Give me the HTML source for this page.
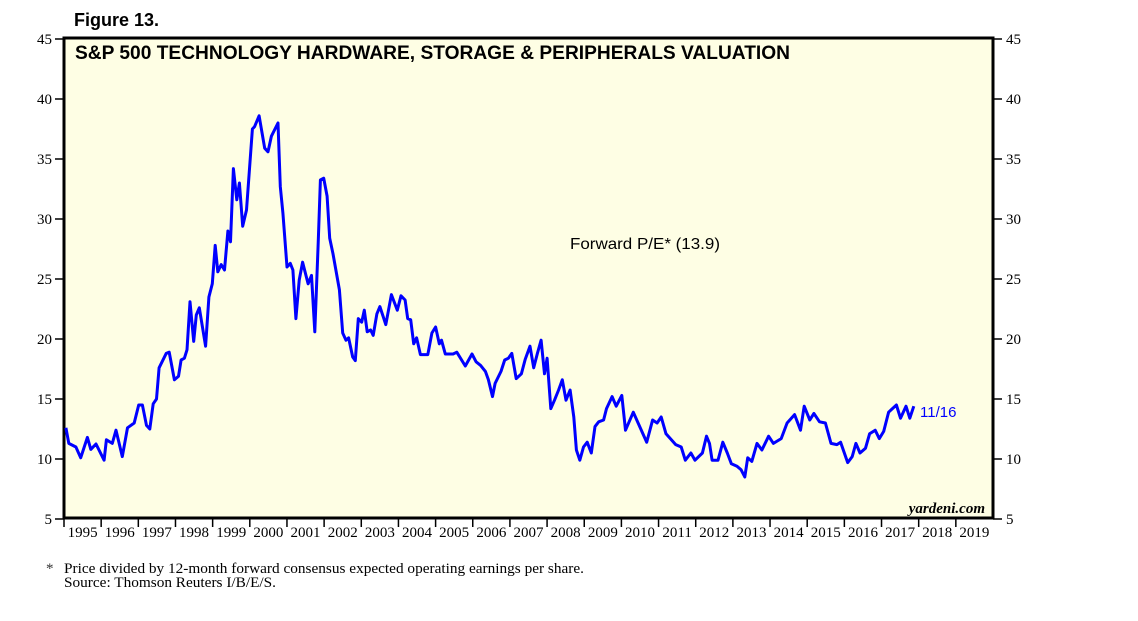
<!DOCTYPE html>
<html><head><meta charset="utf-8"><style>
body{margin:0;background:#fff;width:1138px;height:621px;overflow:hidden}
svg{display:block}
</style></head><body>
<svg width="1138" height="621" xmlns="http://www.w3.org/2000/svg">
<text x="74" y="26" font-family="Liberation Sans, sans-serif" font-weight="bold" font-size="18">Figure 13.</text>
<rect x="64" y="38" width="929" height="480" fill="#FEFEE4" stroke="#000" stroke-width="3"/>
<text x="75" y="59" font-family="Liberation Sans, sans-serif" font-weight="bold" font-size="19" textLength="715" lengthAdjust="spacingAndGlyphs">S&amp;P 500 TECHNOLOGY HARDWARE, STORAGE &amp; PERIPHERALS VALUATION</text>
<g id="yaxes"></g>
<g id="xaxis"></g>
<path id="line" fill="none" stroke="#0000FF" stroke-width="3" stroke-linejoin="round"/>
<text x="570" y="249" font-family="Liberation Sans, sans-serif" font-size="16" textLength="150" lengthAdjust="spacingAndGlyphs">Forward P/E* (13.9)</text>
<text x="920" y="417" font-family="Liberation Sans, sans-serif" font-size="15" fill="#0000FF">11/16</text>
<text x="985" y="513" text-anchor="end" font-family="Liberation Serif, serif" font-style="italic" font-weight="bold" font-size="15">yardeni.com</text>
<text x="46" y="573" font-family="Liberation Serif, serif" font-size="15" fill="#333">*</text>
<text x="64" y="573" font-family="Liberation Serif, serif" font-size="15" textLength="520" lengthAdjust="spacingAndGlyphs">Price divided by 12-month forward consensus expected operating earnings per share.</text>
<text x="64" y="587" font-family="Liberation Serif, serif" font-size="15" textLength="212" lengthAdjust="spacingAndGlyphs">Source: Thomson Reuters I/B/E/S.</text>
</svg>
<script>
const yTicks=[5,10,15,20,25,30,35,40,45];
const years=[1995,1996,1997,1998,1999,2000,2001,2002,2003,2004,2005,2006,2007,2008,2009,2010,2011,2012,2013,2014,2015,2016,2017,2018,2019];
const dates=[0.05,0.13,0.32,0.45,0.63,0.72,0.86,1.08,1.14,1.30,1.40,1.57,1.71,1.89,2.01,2.11,2.22,2.31,2.40,2.49,2.56,2.75,2.83,2.97,3.08,3.15,3.24,3.31,3.39,3.49,3.56,3.64,3.81,3.90,3.99,4.07,4.14,4.23,4.32,4.41,4.48,4.56,4.65,4.72,4.81,4.91,5.07,5.13,5.25,5.40,5.49,5.58,5.76,5.82,5.89,6.00,6.09,6.16,6.24,6.33,6.42,6.57,6.66,6.75,6.84,6.90,6.99,7.08,7.15,7.24,7.41,7.50,7.59,7.66,7.77,7.84,7.92,8.01,8.08,8.16,8.25,8.32,8.42,8.50,8.66,8.81,8.97,9.07,9.18,9.25,9.33,9.41,9.49,9.59,9.79,9.90,10.00,10.10,10.16,10.26,10.47,10.57,10.80,10.98,11.09,11.21,11.34,11.42,11.53,11.60,11.76,11.86,11.96,12.05,12.17,12.31,12.41,12.54,12.64,12.74,12.84,12.93,13.00,13.10,13.20,13.31,13.41,13.51,13.62,13.72,13.79,13.88,13.98,14.08,14.19,14.29,14.39,14.52,14.60,14.75,14.86,15.01,15.11,15.32,15.45,15.68,15.84,15.96,16.07,16.20,16.46,16.61,16.72,16.87,16.98,17.18,17.29,17.37,17.44,17.60,17.73,17.85,17.96,18.11,18.22,18.32,18.40,18.51,18.65,18.78,18.96,19.09,19.30,19.46,19.66,19.82,19.92,20.07,20.18,20.33,20.49,20.64,20.80,20.90,21.09,21.21,21.31,21.42,21.57,21.68,21.83,21.94,22.06,22.19,22.40,22.51,22.66,22.76,22.87];
const values=[12.6,11.3,11.0,10.1,11.8,10.8,11.25,9.9,11.6,11.3,12.4,10.2,12.6,13.0,14.5,14.5,12.8,12.5,14.6,15.0,17.6,18.8,18.9,16.6,16.9,18.25,18.4,19.1,23.1,19.8,22.0,22.6,19.4,23.5,24.6,27.8,25.6,26.2,25.75,29.0,28.1,34.2,31.6,33.0,29.4,30.75,37.5,37.7,38.6,35.9,35.6,36.9,38.0,32.7,30.5,26.0,26.3,25.75,21.7,24.9,26.4,24.6,25.3,20.6,28.0,33.25,33.4,31.9,28.4,27.1,24.1,20.5,19.9,20.1,18.5,18.2,21.7,21.4,22.4,20.6,20.75,20.3,22.1,22.7,21.2,23.7,22.4,23.6,23.25,21.7,21.6,19.6,20.1,18.7,18.7,20.5,21.0,19.6,19.9,18.75,18.75,18.9,17.75,18.75,18.1,17.8,17.3,16.6,15.2,16.3,17.3,18.25,18.4,18.8,16.7,17.1,18.3,19.4,17.6,18.8,19.9,17.1,18.4,14.2,14.9,15.75,16.6,14.9,15.75,13.5,10.75,9.9,11.0,11.4,10.5,12.7,13.1,13.25,14.2,15.2,14.4,15.3,12.4,13.9,13.0,11.4,13.25,13.0,13.5,12.1,11.2,11.0,9.9,10.5,9.9,10.5,11.9,11.3,9.9,9.9,11.4,10.5,9.6,9.4,9.1,8.5,10.1,9.8,11.3,10.75,11.9,11.3,11.7,13.0,13.7,12.4,14.4,13.25,13.8,13.1,13.0,11.3,11.2,11.4,9.7,10.2,11.3,10.5,10.9,12.1,12.4,11.7,12.3,13.9,14.5,13.4,14.4,13.4,14.4];
const X0=64,YW=37.16;
function xs(t){return X0+t*YW;}
function ys(v){return 519-(v-5)*12;}
const NS='http://www.w3.org/2000/svg';
const ya=document.getElementById('yaxes');
yTicks.forEach(v=>{
  const y=ys(v);
  const l1=document.createElementNS(NS,'line');
  l1.setAttribute('x1',55);l1.setAttribute('x2',64);l1.setAttribute('y1',y);l1.setAttribute('y2',y);l1.setAttribute('stroke','#000');l1.setAttribute('stroke-width',1.5);
  
  
  ya.appendChild(l1);
  const l2=document.createElementNS(NS,'line');
  l2.setAttribute('x1',993);l2.setAttribute('x2',1002);l2.setAttribute('y1',y);l2.setAttribute('y2',y);l2.setAttribute('stroke','#000');l2.setAttribute('stroke-width',1.5);
  
  
  ya.appendChild(l2);
  const t1=document.createElementNS(NS,'text');
  t1.setAttribute('x',52);t1.setAttribute('y',y+5);t1.setAttribute('text-anchor','end');
  t1.setAttribute('font-family','Liberation Serif, serif');t1.setAttribute('font-size','15');
  t1.textContent=v;
  
  
  ya.appendChild(t1);
  const t2=document.createElementNS(NS,'text');
  t2.setAttribute('x',1006);t2.setAttribute('y',y+5);
  t2.setAttribute('font-family','Liberation Serif, serif');t2.setAttribute('font-size','15');
  t2.textContent=v;
  
  
  ya.appendChild(t2);
});
const xa=document.getElementById('xaxis');
years.forEach((yr,i)=>{
  const x=xs(i);
  const tk=document.createElementNS(NS,'line');
  tk.setAttribute('x1',x);tk.setAttribute('x2',x);tk.setAttribute('y1',518);tk.setAttribute('y2',527);tk.setAttribute('stroke','#000');tk.setAttribute('stroke-width',1.5);
  
  
  xa.appendChild(tk);
  const t=document.createElementNS(NS,'text');
  t.setAttribute('x',x+YW/2);t.setAttribute('y',537);t.setAttribute('text-anchor','middle');
  t.setAttribute('font-family','Liberation Serif, serif');t.setAttribute('font-size','15');
  t.textContent=yr;
  
  
  xa.appendChild(t);
});
let d='';
dates.forEach((t,i)=>{d+=(i?'L':'M')+xs(t).toFixed(1)+' '+ys(values[i]).toFixed(1);});
document.getElementById('line').setAttribute('d',d);
</script>
</body></html>
